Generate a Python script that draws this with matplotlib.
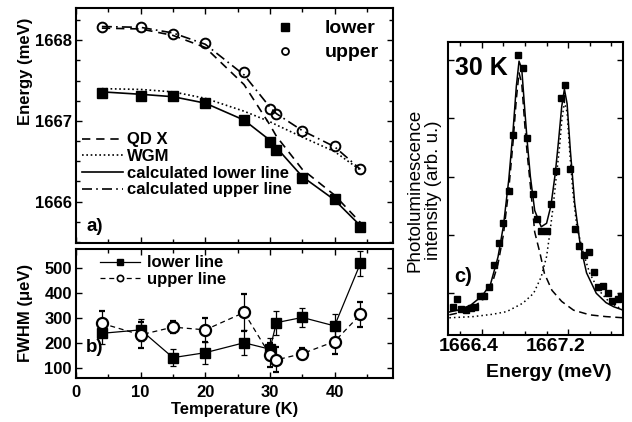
import numpy as np
import matplotlib
matplotlib.use('Agg')
from matplotlib import pyplot as plt
from matplotlib.lines import Line2D
from matplotlib.ticker import MultipleLocator, NullLocator
import matplotlib.transforms as mtransforms

plt.rcParams['font.family'] = ['Liberation Sans', 'DejaVu Sans']
plt.rcParams['font.weight'] = 'bold'
plt.rcParams['axes.linewidth'] = 1.5

# a) line energies vs temperature
temp = [4, 10, 15, 20, 26, 30, 31, 35, 40, 44]
e_lower = [1667.35, 1667.31, 1667.31, 1667.22, 1667.01, 1666.74, 1666.64, 1666.29, 1666.03, 1665.69]
e_upper = [1668.17, 1668.17, 1668.08, 1667.97, 1667.61, 1667.15, 1667.08, 1666.87, 1666.69, 1666.40]
qd_x = [1668.15, 1668.14, 1668.06, 1667.91, 1667.45, 1666.95, 1666.81, 1666.40, 1666.08, 1665.74]
wgm = [1667.40, 1667.39, 1667.36, 1667.28, 1667.12, 1666.99, 1666.95, 1666.80, 1666.62, 1666.39]
calc_lower = [1667.36, 1667.33, 1667.30, 1667.22, 1667.01, 1666.76, 1666.67, 1666.31, 1666.02, 1665.70]
calc_upper = [1668.17, 1668.16, 1668.09, 1667.95, 1667.57, 1667.17, 1667.09, 1666.88, 1666.68, 1666.40]

# b) linewidths (ueV)
fwhm_lower = [238, 252, 140, 160, 200, 174, 281, 302, 268, 520]
fwhm_lower_err = [45, 45, 35, 45, 50, 45, 48, 40, 48, 50]
fwhm_upper = [278, 232, 263, 252, 322, 151, 131, 156, 205, 314]
fwhm_upper_err = [48, 52, 24, 49, 75, 50, 50, 22, 50, 49]

# c) spectrum at 30 K (arb. units)
pl_energy = [1666.13, 1666.17, 1666.21, 1666.25, 1666.30, 1666.34, 1666.38, 1666.42, 1666.47,
             1666.51, 1666.56, 1666.60, 1666.65, 1666.69, 1666.74, 1666.78, 1666.82, 1666.87,
             1666.91, 1666.95, 1667.00, 1667.04, 1667.09, 1667.13, 1667.17, 1667.22, 1667.26,
             1667.30, 1667.35, 1667.39, 1667.44, 1667.48, 1667.52, 1667.57, 1667.61, 1667.66, 1667.69]
pl_intensity = [0.77, 0.90, 0.73, 0.71, 0.75, 0.77, 0.95, 0.95, 1.11,
                1.49, 1.87, 2.20, 2.76, 3.72, 5.09, 4.87, 3.67, 2.71,
                2.27, 2.07, 2.07, 2.53, 3.09, 4.34, 4.57, 3.13, 2.11,
                1.81, 1.66, 1.71, 1.37, 1.10, 1.13, 1.01, 0.87, 0.90, 0.95]

fit_total_e = [1666.10, 1666.20, 1666.30, 1666.40, 1666.48, 1666.55, 1666.60, 1666.65, 1666.69,
               1666.72, 1666.745, 1666.77, 1666.80, 1666.82, 1666.85, 1666.89, 1666.95, 1667.00,
               1667.04, 1667.08, 1667.11, 1667.14, 1667.165, 1667.19, 1667.22, 1667.26, 1667.31,
               1667.37, 1667.46, 1667.55, 1667.62, 1667.71]
fit_total = [0.68, 0.72, 0.80, 0.95, 1.15, 1.62, 2.15, 2.95, 3.80,
             4.55, 4.98, 4.85, 4.10, 3.62, 3.00, 2.42, 2.14, 2.20,
             2.50, 3.05, 3.60, 4.20, 4.50, 4.25, 3.45, 2.55, 1.85,
             1.35, 1.00, 0.84, 0.77, 0.71]

fit_low_e = [1666.10, 1666.20, 1666.30, 1666.40, 1666.48, 1666.55, 1666.60, 1666.65, 1666.69,
             1666.72, 1666.745, 1666.77, 1666.80, 1666.82, 1666.85, 1666.89, 1666.94, 1666.98,
             1667.05, 1667.14, 1667.25, 1667.40, 1667.55, 1667.71]
fit_low = [0.63, 0.67, 0.74, 0.87, 1.07, 1.50, 2.00, 2.78, 3.60,
           4.33, 4.78, 4.60, 3.85, 3.40, 2.85, 2.05, 1.68, 1.34,
           1.05, 0.86, 0.71, 0.63, 0.60, 0.58]

fit_up_e = [1666.10, 1666.32, 1666.50, 1666.63, 1666.78, 1666.88, 1666.95, 1667.00, 1667.03,
            1667.06, 1667.09, 1667.12, 1667.14, 1667.165, 1667.19, 1667.215, 1667.245, 1667.28,
            1667.34, 1667.40, 1667.48, 1667.58, 1667.71]
fit_up = [0.58, 0.60, 0.64, 0.685, 0.83, 1.00, 1.28, 1.63, 2.03,
          2.48, 3.00, 3.51, 3.95, 4.28, 4.10, 3.40, 2.71, 2.14,
          1.69, 1.34, 1.06, 0.85, 0.71]

qd_ls = (0, (5, 3.5))
wgm_ls = (0, (1, 1.6))
up_ls = (0, (6, 2.5, 1, 2.5))

fig = plt.figure(figsize=(6.32, 4.22), dpi=100)
ax_a = fig.add_axes([0.1203, 0.4249, 0.5011, 0.5562])
ax_b = fig.add_axes([0.1203, 0.1043, 0.5011, 0.3057])
ax_c = fig.add_axes([0.7093, 0.2062, 0.2769, 0.6950])

for ax in (ax_a, ax_b, ax_c):
    ax.tick_params(which='both', direction='in', top=True, right=True, width=1.0)
    ax.tick_params(which='major', length=4)
    ax.tick_params(which='minor', length=3)

# ---- panel a
ax_a.plot(temp, qd_x, color='k', lw=1.2, ls=qd_ls)
ax_a.plot(temp, wgm, color='k', lw=1.2, ls=wgm_ls)
ax_a.plot(temp, calc_lower, color='k', lw=1.2)
ax_a.plot(temp, calc_upper, color='k', lw=1.2, ls=up_ls)
ax_a.plot(temp, e_lower, ls='none', marker='s', color='k', ms=6.5)
ax_a.plot(temp, e_upper, ls='none', marker='o', mfc='none', mec='k', ms=7, mew=1.4)
ax_a.set_xlim(0, 49)
ax_a.set_ylim(1665.49, 1668.40)
ax_a.xaxis.set_major_locator(MultipleLocator(10))
ax_a.xaxis.set_minor_locator(MultipleLocator(5))
ax_a.yaxis.set_major_locator(MultipleLocator(1))
ax_a.yaxis.set_minor_locator(MultipleLocator(0.25))
ax_a.tick_params(labelbottom=False, labelsize=12, pad=3)
ax_a.set_ylabel('Energy (meV)', fontsize=12, fontweight='bold', ha='center', va='center')
ax_a.yaxis.set_label_coords(-0.161, 0.729)
ax_a.text(0.06, 0.069, 'a)', transform=ax_a.transAxes, fontsize=13.5, fontweight='bold',
          ha='center', va='center')

h_lines = [Line2D([], [], color='k', lw=1.2, ls=qd_ls),
           Line2D([], [], color='k', lw=1.2, ls=wgm_ls),
           Line2D([], [], color='k', lw=1.2),
           Line2D([], [], color='k', lw=1.2, ls=up_ls)]
leg1 = ax_a.legend(h_lines, ['QD X', 'WGM', 'calculated lower line', 'calculated upper line'],
                   loc='upper left', bbox_to_anchor=(0.018, 0.47), frameon=False, borderpad=0,
                   borderaxespad=0, handlelength=2.5, handletextpad=0.2, labelspacing=0.1,
                   prop={'size': 12, 'weight': 'bold'})
ax_a.add_artist(leg1)
h_mark = [Line2D([], [], ls='none', marker='s', color='k', ms=5.5),
          Line2D([], [], ls='none', marker='o', mfc='none', mec='k', ms=5, mew=1.3)]
ax_a.legend(h_mark, ['lower', 'upper'], loc='upper left', bbox_to_anchor=(0.629, 0.95),
            frameon=False, borderpad=0, borderaxespad=0, handlelength=1, handletextpad=1.56,
            labelspacing=0.33, prop={'size': 14, 'weight': 'bold'})

# ---- panel b
ax_b.errorbar(temp, fwhm_lower, yerr=fwhm_lower_err, fmt='s-', color='k', ms=7, lw=0.9,
              elinewidth=0.9, capsize=2.5, capthick=0.9)
ax_b.errorbar(temp, fwhm_upper, yerr=fwhm_upper_err, fmt='o', ls=(0, (4, 3)), color='k',
              mfc='white', mec='k', ms=8, mew=1.6, lw=0.9, elinewidth=0.9, capsize=2.5,
              capthick=0.9)
ax_b.set_xlim(0, 49)
ax_b.set_ylim(58, 578)
ax_b.xaxis.set_major_locator(MultipleLocator(10))
ax_b.xaxis.set_minor_locator(MultipleLocator(5))
ax_b.set_yticks([100, 200, 300, 400, 500])
ax_b.yaxis.set_minor_locator(NullLocator())
ax_b.tick_params(axis='y', labelsize=12, pad=3)
ax_b.tick_params(axis='x', labelsize=12, pad=5)
ax_b.set_ylabel('FWHM (\u03bceV)', fontsize=12, fontweight='bold', ha='center', va='center')
ax_b.yaxis.set_label_coords(-0.161, 0.5016)
ax_b.set_xlabel('Temperature (K)', fontsize=12, fontweight='bold', va='center')
ax_b.xaxis.set_label_coords(0.5, -0.248)
ax_b.text(0.057, 0.2326, 'b)', transform=ax_b.transAxes, fontsize=13.5, fontweight='bold',
          ha='center', va='center')
h_b = [Line2D([], [], color='k', lw=0.9, marker='s', ms=5),
       Line2D([], [], color='k', lw=0.9, ls=(0, (4, 3)), marker='o', mfc='white', mec='k',
              ms=4.5, mew=1.2)]
ax_b.legend(h_b, ['lower line', 'upper line'], loc='upper left', bbox_to_anchor=(0.0758, 0.95),
            frameon=False, borderpad=0, borderaxespad=0, handlelength=2.4, handletextpad=0.4,
            labelspacing=0.1, prop={'size': 12, 'weight': 'bold'})

# ---- panel c
ax_c.plot(fit_total_e, fit_total, color='k', lw=1.1)
ax_c.plot(fit_low_e, fit_low, color='k', lw=1.1, ls=(0, (5, 3)))
ax_c.plot(fit_up_e, fit_up, color='k', lw=1.1, ls=(0, (1, 2)))
ax_c.plot(pl_energy, pl_intensity, ls='none', marker='s', color='k', ms=4.2)
ax_c.set_xlim(1666.09, 1667.71)
ax_c.set_ylim(0.285, 5.314)
ax_c.set_xticks([1666.4, 1667.2])
ax_c.set_xticklabels(['1666.4', '1667.2'])
ax_c.xaxis.set_minor_locator(MultipleLocator(0.2))
ax_c.set_yticks([1, 2, 3, 4, 5])
ax_c.yaxis.set_minor_locator(NullLocator())
ax_c.tick_params(labelleft=False, labelsize=14, pad=2)
shift = mtransforms.ScaledTranslation(-13 / 100, 0, fig.dpi_scale_trans)
for lbl in ax_c.get_xticklabels():
    lbl.set_transform(lbl.get_transform() + shift)
ax_c.set_xlabel('Energy (meV)', fontsize=14, fontweight='bold', va='center')
ax_c.xaxis.set_label_coords(0.575, -0.1296)
ax_c.set_ylabel('Photoluminescence\nintensity (arb. u.)', fontsize=13.5, fontweight='normal',
                ha='center', va='center', linespacing=1.1)
ax_c.yaxis.set_label_coords(-0.139, 0.494)
ax_c.text(0.038, 0.91, '30 K', transform=ax_c.transAxes, fontsize=18, fontweight='bold',
          ha='left', va='center')
ax_c.text(0.084, 0.198, 'c)', transform=ax_c.transAxes, fontsize=14.5, fontweight='bold',
          ha='center', va='center')

fig.savefig('out.png', dpi=100)
